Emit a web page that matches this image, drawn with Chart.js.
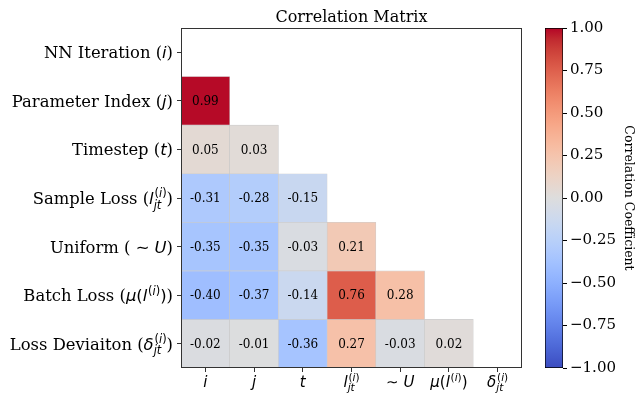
<!DOCTYPE html>
<html lang="en">
<head>
<meta charset="UTF-8">
<title>Correlation Matrix</title>
<style>
    body { margin: 0; background: #ffffff; }
    .wrap { position: relative; width: 639px; height: 404px; }
    .wrap canvas { position: absolute; left: 0; top: 0; }
</style>
</head>
<body>
<div class="wrap">
    <canvas id="matrix" width="639" height="404"></canvas>
    <canvas id="colorbar" width="639" height="404"></canvas>
</div>

<script src="https://cdn.jsdelivr.net/npm/chart.js"></script>
<script>
    // variables (rows and columns are the same list)
    const varIds = ['i', 'j', 't', 'l', 'U', 'mu', 'delta'];

    // lower triangle of the correlation matrix, row by row
    const corrRows = [
        [],
        [0.99],
        [0.05, 0.03],
        [-0.31, -0.28, -0.15],
        [-0.35, -0.35, -0.03, 0.21],
        [-0.40, -0.37, -0.14, 0.76, 0.28],
        [-0.02, -0.01, -0.36, 0.27, -0.03, 0.02]
    ];

    // tick labels as runs: [kind, text] or {sub: [...], sup: [...]}
    // kind: rm = serif text, it = math italic, up = math upright
    const supI = [['up', '('], ['it', 'i'], ['up', ')']];
    const rowLabels = [
        [['rm', 'NN Iteration ('], ['it', 'i'], ['rm', ')']],
        [['rm', 'Parameter Index ('], ['it', 'j'], ['rm', ')']],
        [['rm', 'Timestep ('], ['it', 't'], ['rm', ')']],
        [['rm', 'Sample Loss ('], ['it', 'l'], {sub: [['it', 'jt']], sup: supI}, ['rm', ')']],
        [['rm', 'Uniform ('], ['up', ' \u223C '], ['it', 'U'], ['rm', ')']],
        [['rm', 'Batch Loss ('], ['it', '\u03BC'], ['up', '('], ['it', 'l'], {sup: supI}, ['up', ')'], ['rm', ')']],
        [['rm', 'Loss Deviaiton ('], ['it', '\u03B4'], {sub: [['it', 'jt']], sup: supI}, ['rm', ')']]
    ];
    const colLabels = [
        [['it', 'i']],
        [['it', 'j']],
        [['it', 't']],
        [['it', 'l'], {sub: [['it', 'jt']], sup: supI}],
        [['up', '\u223C '], ['it', 'U']],
        [['it', '\u03BC'], ['up', '('], ['it', 'l'], {sup: supI}, ['up', ')']],
        [['it', '\u03B4'], {sub: [['it', 'jt']], sup: supI}]
    ];

    const titleText = 'Correlation Matrix';
    const cbarTitle = 'Correlation Coefficient';
    const cbarMin = -1, cbarMax = 1, cbarStep = 0.25;

    // coolwarm (Moreland) colour table, 33 steps from 0 to 1
    const coolwarmTable = [
        [59, 76, 192], [68, 90, 204], [77, 104, 215], [87, 117, 225], [98, 130, 234],
        [108, 142, 241], [119, 154, 247], [130, 165, 251], [141, 176, 254], [152, 185, 255],
        [163, 194, 255], [174, 201, 253], [184, 208, 249], [194, 213, 244], [204, 217, 238],
        [213, 219, 230], [221, 221, 221], [229, 216, 209], [236, 211, 197], [241, 204, 185],
        [245, 196, 173], [247, 187, 160], [247, 177, 148], [247, 166, 135], [244, 154, 123],
        [241, 141, 111], [236, 127, 99], [229, 112, 88], [222, 96, 77], [213, 80, 66],
        [203, 62, 56], [192, 40, 47], [180, 4, 38]
    ];

    function coolwarm(v) {
        let t = (v - cbarMin) / (cbarMax - cbarMin);
        t = Math.max(0, Math.min(1, t)) * (coolwarmTable.length - 1);
        const k = Math.min(Math.floor(t), coolwarmTable.length - 2);
        const f = t - k;
        const a = coolwarmTable[k], b = coolwarmTable[k + 1];
        const c = a.map((x, n) => Math.round(x + (b[n] - x) * f));
        return `rgb(${c[0]}, ${c[1]}, ${c[2]})`;
    }

    // rich text (math-like) drawing
    function fontOf(kind, size) {
        if (kind === 'rm') return `${size}px "DejaVu Serif"`;
        if (kind === 'it') return `italic ${size}px "DejaVu Sans"`;
        return `${size}px "DejaVu Sans"`;
    }

    function runsWidth(ctx, runs, size) {
        let w = 0;
        runs.forEach(r => {
            if (Array.isArray(r)) {
                ctx.font = fontOf(r[0], size);
                w += ctx.measureText(r[1]).width;
            } else {
                const s = size * 0.7;
                w += Math.max(r.sub ? runsWidth(ctx, r.sub, s) : 0, r.sup ? runsWidth(ctx, r.sup, s) : 0) + size * 0.05;
            }
        });
        return w;
    }

    function drawRuns(ctx, runs, x, y, size) {
        runs.forEach(r => {
            if (Array.isArray(r)) {
                ctx.font = fontOf(r[0], size);
                ctx.fillText(r[1], x, y);
                x += ctx.measureText(r[1]).width;
            } else {
                const s = size * 0.7;
                let w = 0;
                if (r.sup) {
                    drawRuns(ctx, r.sup, x + size * 0.05, y - size * (r.sub ? 0.42 : 0.4), s);
                    w = Math.max(w, runsWidth(ctx, r.sup, s));
                }
                if (r.sub) {
                    drawRuns(ctx, r.sub, x, y + size * 0.28, s);
                    w = Math.max(w, runsWidth(ctx, r.sub, s));
                }
                x += w + size * 0.05;
            }
        });
        return x;
    }

    const labelPlugin = {
        id: 'matrixLabels',
        afterDatasetsDraw(chart) {
            const {ctx, scales: {x, y}} = chart;
            ctx.save();
            ctx.font = '12px "DejaVu Serif"';
            ctx.fillStyle = '#000000';
            ctx.textAlign = 'center';
            ctx.textBaseline = 'middle';
            corrRows.forEach((vals, r) => {
                vals.forEach((v, c) => {
                    ctx.fillText(v.toFixed(2), x.getPixelForValue(c), y.getPixelForValue(r) + 1);
                });
            });
            ctx.restore();
        },
        afterDraw(chart) {
            const {ctx, chartArea: a, scales: {x, y}} = chart;
            ctx.save();
            // frame
            ctx.strokeStyle = '#333333';
            ctx.lineWidth = 1;
            ctx.strokeRect(Math.round(a.left) + 0.5, Math.round(a.top) + 0.5,
                Math.round(a.right - a.left) - 1, Math.round(a.bottom - a.top) - 1);

            ctx.fillStyle = '#000000';
            ctx.textBaseline = 'alphabetic';
            ctx.textAlign = 'left';

            // title
            ctx.font = '16px "DejaVu Serif"';
            const tw = ctx.measureText(titleText).width;
            ctx.fillText(titleText, (a.left + a.right) / 2 - tw / 2, 22);

            // y labels
            const ys = 16.4;
            rowLabels.forEach((runs, r) => {
                const w = runsWidth(ctx, runs, ys);
                drawRuns(ctx, runs, a.left - 8 - w, y.getPixelForValue(r) + 6, ys);
            });

            // x labels
            const xs = 15;
            colLabels.forEach((runs, c) => {
                const w = runsWidth(ctx, runs, xs);
                drawRuns(ctx, runs, x.getPixelForValue(c) - w / 2, 387, xs);
            });
            ctx.restore();
        }
    };

    const matrixDatasets = corrRows.map((vals, r) => ({
        label: varIds[r],
        data: varIds.map((_, c) => (c < vals.length ? [r - 0.5, r + 0.5] : null)),
        backgroundColor: varIds.map((_, c) => (c < vals.length ? coolwarm(vals[c]) : 'rgba(0,0,0,0)')),
        borderColor: 'rgba(200, 200, 200, 0.9)',
        borderWidth: 0.6,
        borderSkipped: false,
        grouped: false,
        barPercentage: 1,
        categoryPercentage: 1
    }));

    new Chart(document.getElementById('matrix'), {
        type: 'bar',
        data: { labels: varIds, datasets: matrixDatasets },
        plugins: [labelPlugin],
        options: {
            responsive: false,
            animation: false,
            devicePixelRatio: 1,
            layout: { padding: { left: 0, right: 117, top: 28, bottom: 0 } },
            plugins: { legend: { display: false }, tooltip: { enabled: false } },
            scales: {
                x: {
                    type: 'category',
                    offset: true,
                    grid: { offset: false, drawOnChartArea: false, drawTicks: true, tickLength: 4, tickColor: '#333333' },
                    border: { display: false },
                    ticks: { callback: () => '', maxRotation: 0 },
                    afterFit: s => { s.height = 36; }
                },
                y: {
                    type: 'linear',
                    min: -0.5,
                    max: 6.5,
                    reverse: true,
                    grid: { drawOnChartArea: false, drawTicks: true, tickLength: 4, tickColor: '#333333' },
                    border: { display: false },
                    ticks: { callback: () => '' },
                    afterBuildTicks: s => { s.ticks = varIds.map((_, i) => ({ value: i })); },
                    afterFit: s => { s.width = 181; }
                }
            }
        }
    });

    // colorbar
    function cbarGradient(context) {
        const area = context.chart.chartArea;
        if (!area) return coolwarm(0);
        const g = context.chart.ctx.createLinearGradient(0, area.bottom, 0, area.top);
        coolwarmTable.forEach((_, k) => {
            const t = k / (coolwarmTable.length - 1);
            g.addColorStop(t, coolwarm(cbarMin + t * (cbarMax - cbarMin)));
        });
        return g;
    }

    new Chart(document.getElementById('colorbar'), {
        type: 'bar',
        data: {
            labels: [''],
            datasets: [{
                data: [[cbarMin, cbarMax]],
                backgroundColor: cbarGradient,
                borderColor: '#000000',
                borderWidth: 1,
                borderSkipped: false,
                barPercentage: 1,
                categoryPercentage: 1
            }]
        },
        options: {
            responsive: false,
            animation: false,
            devicePixelRatio: 1,
            layout: { padding: { left: 545, right: 0, top: 28, bottom: 36 } },
            plugins: { legend: { display: false }, tooltip: { enabled: false } },
            scales: {
                x: { display: false },
                y: {
                    position: 'right',
                    min: cbarMin,
                    max: cbarMax,
                    grid: { drawOnChartArea: false, drawTicks: true, tickLength: 4, tickColor: '#000000' },
                    border: { display: false },
                    ticks: {
                        stepSize: cbarStep,
                        color: '#000000',
                        padding: 3,
                        font: { family: 'DejaVu Serif', size: 15 },
                        callback: v => (v < 0 ? '\u2212' : '') + Math.abs(v).toFixed(2)
                    },
                    title: {
                        display: true,
                        text: cbarTitle,
                        color: '#000000',
                        font: { family: 'DejaVu Serif', size: 12.5 },
                        padding: { top: 3.5, bottom: 0 }
                    },
                    afterFit: s => { s.width = 76; }
                }
            }
        }
    });
</script>
</body>
</html>
